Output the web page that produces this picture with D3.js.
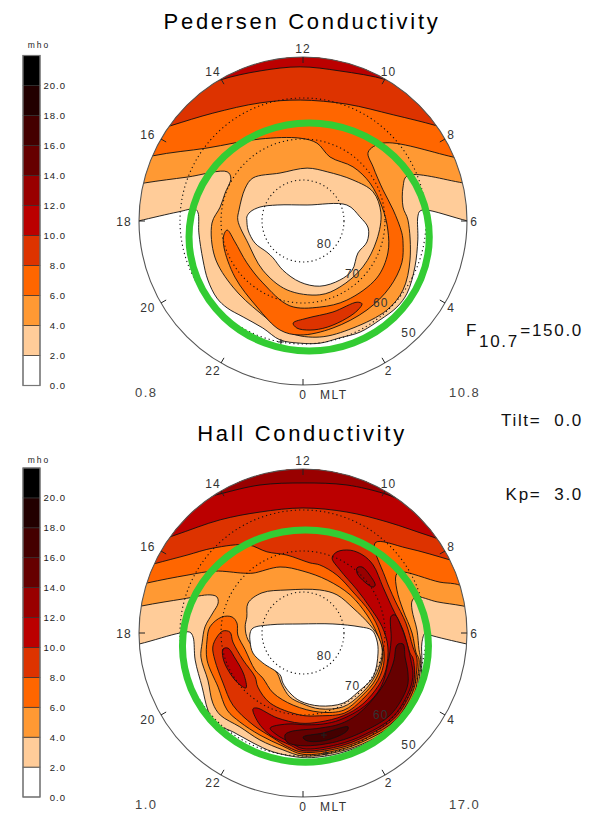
<!DOCTYPE html>
<meta charset="utf-8">
<head>
<style>
body { margin: 0; background: #fff; }
text { font-family: "Liberation Sans", Arial, sans-serif; }
</style>
</head>
<body>
<div id="chart"></div>
<script src="https://d3js.org/d3.v7.min.js"></script>
<script>

// colour bands of the legend, in mho
var bandLevels = [2, 4, 6, 8, 10, 12, 14, 16, 18, 20];
var bandColors = ["#ffffff", "#ffcc99", "#ff9933", "#ff6600", "#dd3300", "#bb0000", "#990000", "#660000", "#440000", "#220000", "#000000"];
var legendTicks = [0, 2, 4, 6, 8, 10, 12, 14, 16, 18, 20];
var mltHours = [0, 2, 4, 6, 8, 10, 12, 14, 16, 18, 20, 22];
var latCircles = [60, 70, 80];
var latLabels = [50, 60, 70, 80];

// contours, as [degrees toward dawn, degrees toward noon] from the pole
var pedL2 = [[-40.2,0],[-30.5,2.2],[-26.3,2.9],[-25.6,2],[-25.4,-2.9],[-24.4,-9.5],[-23.2,-14.4],[-21,-18.8],[-18.5,-21.2],[-14.6,-23.4],[-9.8,-26.1],[-5.6,-29],[-0.7,-29.8],[4.1,-29.8],[9,-28.5],[13.9,-27.1],[18.8,-24.1],[22.9,-21],[25.4,-17.6],[27.3,-11.2],[28,-4.6],[28,1],[28.5,2.4],[29.8,2.7],[40.2,0],[51,-2.4],[51,51],[-51,51],[-51,-2.4]];
var pedL4 = [[-38.5,9.3],[-28.3,10.7],[-18.5,12],[-17.6,10.5],[-19,6.8],[-20.2,3.4],[-22.2,-0.5],[-21.5,-8.8],[-17.1,-16.1],[-10.5,-22.4],[-3.2,-27.3],[4.1,-28.3],[12.2,-26.1],[20.5,-21.7],[24.4,-16.8],[26.1,-9.5],[25.6,0.2],[24.4,3.4],[24.4,8.3],[25.4,11],[39,9.3],[51,7],[51,51],[-51,51],[-51,7]];
var pedRing = [[-15.6,2.7],[-14.1,8],[-12.2,10.5],[-5.6,11.7],[1,12.9],[5.9,12],[12.2,10],[17.1,7.1],[19,2],[18,-4.6],[14.6,-11.2],[9,-16.1],[4.1,-18],[-3.9,-16.8],[-9.8,-12],[-13.4,-5.4],[-15.9,0.2]];
var pedHole = [[-13.7,1],[-12.9,2.2],[-10.5,3.4],[-6.3,3.9],[1,3.9],[10.7,3.9],[13.9,1],[15.9,-1.7],[15.6,-5.1],[13.4,-7.8],[12,-12],[9,-14.4],[4.1,-15.9],[-0.7,-14.9],[-4.9,-12],[-7.3,-9],[-8.8,-7.6],[-11.7,-5.4],[-13.4,-2.2],[-13.7,0.2]];
var pedL6 = [[-36.6,15.9],[-23.4,17.8],[-10.5,20],[-0.7,20.2],[3.4,19],[6.6,15.6],[12.2,13.2],[16.3,9.3],[19.3,3.4],[20.7,-2.2],[20.7,-7.8],[18,-13.9],[10.7,-19.3],[4.1,-21],[-3.2,-20.7],[-9.8,-15.1],[-13.7,-10.2],[-16.6,-5.1],[-18.5,-2.2],[-19.3,-3.4],[-19.3,-6.3],[-16.6,-13.7],[-11.2,-21],[-5.6,-26.6],[-0.7,-27.8],[7.3,-26.1],[15.6,-21.7],[21.2,-16.1],[24.1,-10.2],[24.4,-5.4],[24.1,-2.9],[22,2.7],[19.5,7.6],[17.1,13.2],[15.9,16.8],[19.5,19],[36.6,15.6],[51,12],[51,51],[-51,51],[-51,12]];
var pedL8 = [[-32.4,23.2],[-22,26.3],[-10.5,28.8],[-0.7,29.5],[10.7,28.5],[22,25.9],[32.7,23.2],[46,19],[46,51],[-46,51],[-46,19]];
var pedL10 = [[-20.2,34.4],[-10.5,36.6],[-0.7,37.6],[9,36.6],[20.5,34.4],[30,30.5],[30,51],[-30,51],[-30,30.5]];
var pedBlob = [[-2.4,-24.9],[1,-23.7],[7.3,-22.2],[13.2,-19.8],[14.4,-20.2],[13.4,-21.7],[10.7,-23.7],[5.9,-25.9],[1.7,-26.6],[-1.5,-26.1]];

var hallL2 = [[-40,-2.7],[-30,0],[-27.6,0.2],[-26.8,-1],[-26.3,-6.6],[-24.6,-13.2],[-23.2,-18.8],[-21.5,-22],[-17.1,-24.1],[-12.2,-26.8],[-7.3,-29],[0,-30.4],[4.1,-30.2],[9,-29.3],[16.3,-26.6],[23.7,-22],[28,-14.6],[28.8,-10.7],[29,-6.6],[29,-2.4],[29.8,0],[31,-0.5],[40,-2.7],[51,-5],[51,51],[-51,51],[-51,-5]];
var hallL4 = [[-39.3,6.6],[-29.3,8.3],[-22.7,9.3],[-21,8.8],[-20.7,7.3],[-22,4.9],[-23.9,1.5],[-24.6,-2.4],[-24.9,-5.9],[-23.2,-11.5],[-22,-17.1],[-20.2,-20],[-15.4,-22.9],[-10.5,-26.1],[-4.9,-28.5],[0,-30],[8.9,-28.9],[16.2,-26.3],[23.4,-21.7],[27.7,-14.5],[28.4,-10.6],[28.7,-6.5],[28.3,-4.1],[27.8,0.7],[26.6,5.6],[26.6,7.8],[27.6,8.8],[32.7,7.6],[39,6.6],[51,4],[51,51],[-51,51],[-51,4]];
var hallRing = [[-13.4,7.3],[-10,9.8],[-3.9,10.5],[4.1,10.5],[8.3,9.3],[12.2,6.1],[16.3,2],[18.8,-1.7],[19.3,-5.4],[17.3,-11],[13.9,-15.1],[9.8,-18],[4.1,-18.5],[0,-17.3],[-3.2,-15.6],[-5.1,-12.7],[-6.3,-9.8],[-9.3,-6.6],[-13.4,-1.7],[-14.1,1.5],[-13.7,3.9]];
var hallHole = [[-12.9,0],[-12.2,1.2],[-8,2],[-0.7,2.2],[7.3,2.2],[13.9,1.5],[16.8,0.7],[18,-1.7],[18.3,-4.9],[17.1,-10.7],[13.4,-14.4],[9.8,-17.1],[4.1,-17.8],[-0.7,-16.6],[-3.2,-14.6],[-4.9,-12.2],[-5.6,-10.2],[-9.8,-7.3],[-12.2,-4.9],[-12.9,-2.2]];
var hallL6 = [[-38,12.2],[-28.3,14.1],[-21.5,15.1],[-14.6,14.6],[-12.2,14.6],[-5.6,16.1],[0,15.1],[5.9,12.9],[11.5,9.3],[15.6,4.4],[18,0],[19.5,-4.9],[17.8,-11.2],[14.1,-15.6],[10,-18.8],[4.1,-19.3],[-2.4,-17.6],[-7.3,-14.6],[-9.8,-11],[-11.7,-9],[-14.1,-4.1],[-15.9,-0.5],[-16.1,2.4],[-17.3,3.9],[-19.8,3.9],[-22.7,1.5],[-23.4,-1.7],[-23.4,-6.6],[-20.7,-13.2],[-18.5,-18.8],[-15.4,-21.7],[-10.5,-24.9],[-4.9,-27.6],[0,-29.6],[8.8,-28.5],[15.9,-25.9],[23.1,-21.4],[27.3,-14.3],[28,-10.5],[28.3,-6.4],[27.6,-4.9],[26.6,0],[24.4,5.6],[22.9,10.5],[22.7,14.1],[23.7,14.9],[33.4,12.4],[37,12],[51,9],[51,51],[-51,51],[-51,9]];
var hallL8 = [[-36.6,16.8],[-28.3,19],[-22,20.7],[-13.4,21.5],[-8.8,19.8],[-3.9,19],[1.7,17.1],[4.1,16.6],[8.3,14.1],[12.2,10],[16.3,5.1],[18.8,0],[19.8,-6.6],[18.3,-11.5],[14.6,-16.1],[10.2,-19.5],[4.1,-20.2],[-0.7,-20],[-8,-17.1],[-11,-13.2],[-11.7,-10.7],[-14.6,-6.6],[-17.1,-2.2],[-17.8,0.2],[-19.5,0.5],[-21,-1],[-22,-3.4],[-21.5,-6.6],[-19.5,-12.2],[-17.1,-17.6],[-12.2,-22.4],[-7.3,-25.6],[-3.7,-27.8],[0,-29.1],[8.7,-28.1],[15.7,-25.5],[22.7,-21.1],[26.9,-14],[27.6,-10.2],[27.8,-6.3],[26.8,-3.4],[25.1,2.4],[22.4,8],[20,13.7],[17.6,22],[25.4,20.7],[36.6,17.6],[51,13],[51,51],[-51,51],[-51,13]];
var hallTopL10 = [[-31.7,23.7],[-20.2,27.6],[-10.5,29.5],[0,30.5],[10.7,29.5],[20.5,27.1],[31.7,23.4],[46,19],[46,51],[-46,51],[-46,19]];
var hallTopL12 = [[-22.7,33.2],[-19.5,34.1],[-10.5,36.1],[0,36.6],[10.7,36.1],[19.5,34.1],[23.2,32.7],[32,29],[32,51],[-32,51],[-32,29]];
var hallL10 = [[7.1,18.3],[8.3,19.8],[11.5,20.2],[14.6,19],[17.1,16.6],[19.5,11.2],[21.7,6.3],[24.4,0.7],[26.1,-4.9],[26.8,-6.1],[27.2,-10.1],[26.5,-13.8],[22.4,-20.7],[15.4,-25.1],[8.5,-27.7],[0,-28.7],[-3.2,-27.3],[-8,-24.9],[-11,-21.7],[-12.2,-18.5],[-11.2,-18.3],[-6.3,-20.7],[-0.7,-22],[4.1,-21.7],[9.8,-20.2],[14.6,-17.3],[18.5,-12.7],[20.2,-9],[20.7,-3.4],[19.3,1.5],[16.3,6.3],[13.2,10.5],[9,15.4]];
var hallL10Left = [[-19.5,-3.9],[-18.3,-3.7],[-16.6,-6.1],[-14.4,-10.2],[-13.9,-13.4],[-15.9,-12.2],[-18.3,-9],[-19.5,-6.1]];
var hallL12Blob = [[13.2,15.9],[14.4,16.1],[16.3,14.1],[17.6,11.7],[17.1,11.2],[15.1,12.4],[13.2,14.6]];
var hallL12 = [[21.5,4.1],[22.4,4.4],[24.1,1.2],[25.6,-3.4],[26.3,-6.6],[26.8,-10],[26.1,-13.6],[22,-20.4],[15.2,-24.7],[8.4,-27.2],[0,-28.2],[-3.2,-26.6],[-6.3,-24.9],[-8,-23.2],[-3.9,-22.2],[1,-22.4],[4.9,-22.2],[9,-21.2],[15.1,-17.8],[19,-13.2],[20.7,-7.3],[21.5,-1.7]];
var hallL14 = [[23.2,-2.7],[24.4,-2.7],[24.9,-5.9],[25.6,-9.8],[25.4,-13.2],[21.4,-19.9],[14.8,-24],[8.2,-26.5],[0,-27.5],[-3.9,-26.6],[-4.4,-24.9],[-3.2,-24.1],[4.1,-23.2],[9,-22.2],[13.4,-19.8],[18.3,-14.6],[20.7,-10.7],[22.2,-6.6],[22.7,-3.4]];
var hallL16 = [[0,-25.4],[4.9,-24.4],[11,-22.9],[10.7,-23.9],[5.9,-26.1],[1,-26.3]];

// painted in this order, [level, contour]
var pedersenContours = [[2, pedL2], [4, pedL4], [2, pedRing], [0, pedHole], [6, pedL6], [8, pedL8], [10, pedL10], [8, pedBlob]];
var hallContours = [[2, hallL2], [4, hallL4], [2, hallRing], [0, hallHole], [6, hallL6], [8, hallL8], [10, hallTopL10], [12, hallTopL12], [10, hallL10], [10, hallL10Left], [12, hallL12Blob], [12, hallL12], [14, hallL14], [16, hallL16]];

var pedersenPlus = [[-5.4,-29.5]];
var hallPlus = [[5.1,-24.9],[5.6,-29.3]];
var pedersenRing = {cx: 1.5, cy: -3.9, rx: 29.3, ry: 27.8};
var hallRingMark = {cx: 0.6, cy: -3.2, rx: 30, ry: 28.3};

var width = 594, height = 813;
var radius = 164, centerX = 303;

var svg = d3.select("#chart")
  .append("svg")
    .attr("width", width)
    .attr("height", height);

var band = d3.scaleThreshold().domain(bandLevels).range(bandColors);

function drawLegend(top, bottom, unitY) {
  var y = d3.scaleLinear().domain([0, 22]).range([bottom, top]);
  var g = svg.append("g");
  var bands = [0].concat(bandLevels);
  g.selectAll("rect")
    .data(bands)
    .enter()
    .append("rect")
      .attr("x", 23)
      .attr("width", 17)
      .attr("y", function(d) { return y(d + 2); })
      .attr("height", function(d) { return y(d) - y(d + 2); })
      .style("fill", function(d) { return band(d); })
      .style("stroke", "#333")
      .style("stroke-width", 0.7);
  g.append("rect")
    .attr("x", 23).attr("width", 17)
    .attr("y", top).attr("height", bottom - top)
    .style("fill", "none")
    .style("stroke", "#777")
    .style("stroke-width", 1.2);
  g.selectAll(".tick")
    .data(legendTicks)
    .enter()
    .append("text")
      .attr("x", 66)
      .attr("y", function(d) { return y(d) + 3.5; })
      .attr("text-anchor", "end")
      .style("font-size", "9.5px")
      .style("letter-spacing", "1px")
      .style("fill", "#222")
      .text(function(d) { return d3.format(".1f")(d); });
  g.append("text")
    .attr("x", 39).attr("y", unitY)
    .attr("text-anchor", "middle")
    .style("font-size", "8.5px")
    .style("letter-spacing", "2px")
    .style("fill", "#222")
    .text("mho");
}

function drawDial(id, centerY, contours, plus, ring, title, titleY, minText, maxText) {
  var x = d3.scaleLinear().domain([-40, 40]).range([centerX - radius, centerX + radius]);
  var y = d3.scaleLinear().domain([-40, 40]).range([centerY + radius, centerY - radius]);
  var r = d3.scaleLinear().domain([90, 50]).range([0, radius]);
  var g = svg.append("g");

  var path = d3.line()
    .x(function(d) { return x(d[0]); })
    .y(function(d) { return y(d[1]); })
    .curve(d3.curveCatmullRomClosed.alpha(0.5));

  // point on the dial at a magnetic local time and distance from the centre
  function polar(hour, dist) {
    var a = hour / 24 * 2 * Math.PI;
    return [centerX + dist * Math.sin(a), centerY + dist * Math.cos(a)];
  }

  svg.append("clipPath")
    .attr("id", id)
    .append("circle")
      .attr("cx", centerX).attr("cy", centerY).attr("r", r(50));

  g.append("circle")
    .attr("cx", centerX).attr("cy", centerY).attr("r", r(50))
    .style("fill", "#fff");

  g.append("g")
    .attr("clip-path", "url(#" + id + ")")
    .selectAll("path")
    .data(contours)
    .enter()
    .append("path")
      .attr("d", function(d) { return path(d[1]); })
      .style("fill", function(d) { return band(d[0]); })
      .style("stroke", "#111")
      .style("stroke-width", 0.9);

  g.selectAll(".lat")
    .data(latCircles)
    .enter()
    .append("circle")
      .attr("cx", centerX).attr("cy", centerY)
      .attr("r", function(d) { return r(d); })
      .style("fill", "none")
      .style("stroke", "#111")
      .style("stroke-width", 1.1)
      .style("stroke-dasharray", "1.2,3");

  g.append("circle")
    .attr("cx", centerX).attr("cy", centerY).attr("r", r(50))
    .style("fill", "none")
    .style("stroke", "#555")
    .style("stroke-width", 1.1);

  g.selectAll(".hourTick")
    .data(mltHours)
    .enter()
    .append("line")
      .attr("x1", function(d) { return polar(d, radius)[0]; })
      .attr("y1", function(d) { return polar(d, radius)[1]; })
      .attr("x2", function(d) { return polar(d, radius - 6)[0]; })
      .attr("y2", function(d) { return polar(d, radius - 6)[1]; })
      .style("stroke", "#222");

  g.selectAll(".hourLabel")
    .data(mltHours)
    .enter()
    .append("text")
      .attr("x", function(d) {
        return d > 12 ? polar(d, radius + 14)[0] - 1 : polar(d, radius + 7)[0];
      })
      .attr("y", function(d) { return polar(d, radius + 9)[1] + 4.5; })
      .attr("text-anchor", "middle")
      .style("font-size", "12px")
      .style("letter-spacing", "1px")
      .style("fill", "#333")
      .text(function(d) { return d; });

  g.selectAll(".latLabel")
    .data(latLabels)
    .enter()
    .append("text")
      .attr("x", function(d) { return polar(2.9, r(d) - 10)[0]; })
      .attr("y", function(d) { return polar(2.9, r(d) - 10)[1] + 4.5; })
      .attr("text-anchor", "middle")
      .style("font-size", "12px")
      .style("letter-spacing", "1px")
      .style("fill", "#333")
      .text(function(d) { return d; });

  // min and max markers
  g.selectAll(".plus")
    .data(plus)
    .enter()
    .append("path")
      .attr("d", function(d) {
        return "M" + (x(d[0]) - 3) + "," + y(d[1]) + "h6M" + x(d[0]) + "," + (y(d[1]) - 3) + "v6";
      })
      .style("stroke", "#222")
      .style("fill", "none");

  g.append("ellipse")
    .attr("cx", x(ring.cx)).attr("cy", y(ring.cy))
    .attr("rx", x(ring.rx) - x(0)).attr("ry", y(0) - y(ring.ry))
    .style("fill", "none")
    .style("stroke", "#33cc33")
    .style("stroke-width", 7);

  g.append("text")
    .attr("x", centerX - 1).attr("y", titleY)
    .attr("text-anchor", "middle")
    .style("font-size", "22px")
    .style("letter-spacing", "2.7px")
    .style("fill", "#000")
    .text(title);

  g.append("text")
    .attr("x", centerX + 17).attr("y", polar(0, radius + 9)[1] + 4.5)
    .style("font-size", "12px")
    .style("letter-spacing", "1.5px")
    .style("fill", "#333")
    .text("MLT");

  var cornerY = centerY + radius + 12;
  g.append("text")
    .attr("x", 135).attr("y", cornerY)
    .style("font-size", "13px")
    .style("letter-spacing", "1.5px")
    .style("fill", "#444")
    .text(minText);
  g.append("text")
    .attr("x", 449).attr("y", cornerY)
    .style("font-size", "13px")
    .style("letter-spacing", "1.5px")
    .style("fill", "#444")
    .text(maxText);
}

drawLegend(55.5, 385.5, 48);
drawLegend(468, 797, 463);
drawDial("clipPed", 221, pedersenContours, pedersenPlus, pedersenRing, "Pedersen Conductivity", 29, "0.8", "10.8");
drawDial("clipHall", 633, hallContours, hallPlus, hallRingMark, "Hall Conductivity", 441, "1.0", "17.0");

// solar wind and season parameters, right side
function sideText(x, y, anchor, str) {
  svg.append("text")
    .attr("x", x).attr("y", y)
    .attr("text-anchor", anchor)
    .style("font-size", "17px")
    .style("letter-spacing", "1.7px")
    .style("fill", "#111")
    .style("white-space", "pre")
    .text(str);
}
sideText(466, 336, "start", "F");
sideText(479, 347, "start", "10.7");
sideText(583, 336, "end", "=150.0");
sideText(583, 426, "end", "Tilt=  0.0");
sideText(583, 500, "end", "Kp=  3.0");

</script>
</body>
